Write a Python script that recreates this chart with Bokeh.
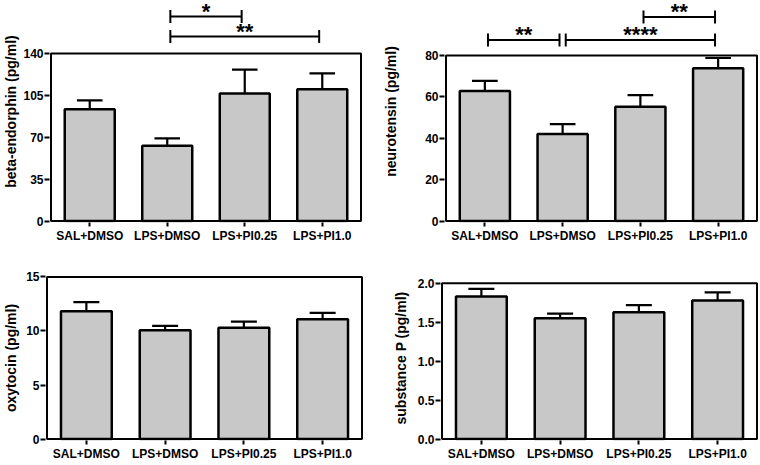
import numpy as np
from bokeh.plotting import figure
from bokeh.layouts import column, row
from bokeh.models import Range1d, FixedTicker, PrintfTickFormatter
from bokeh.core.properties import value
from bokeh.embed import file_html
from bokeh.resources import INLINE

# ---------------- data ----------------
groups = ["SAL+DMSO", "LPS+DMSO", "LPS+PI0.25", "LPS+PI1.0"]

beta_mean = [93.3, 63.0, 106.5, 110.2]
beta_sem = [7.6, 6.1, 20.0, 13.2]
neuro_mean = [62.9, 42.1, 55.2, 73.8]
neuro_sem = [4.8, 4.7, 5.6, 5.0]
oxy_mean = [11.83, 10.06, 10.30, 11.08]
oxy_sem = [0.84, 0.42, 0.57, 0.60]
subp_mean = [1.83, 1.553, 1.63, 1.78]
subp_sem = [0.10, 0.057, 0.09, 0.105]

beta_ticks = [0, 35, 70, 105, 140]
neuro_ticks = [0, 20, 40, 60, 80]
oxy_ticks = [0, 5, 10, 15]
subp_ticks = [0, 0.5, 1.0, 1.5, 2.0]

# significance brackets: (from group index, to group index, label, height in data units)
beta_sig = [(1, 2, "*", 170.9), (1, 3, "**", 154.2)]
neuro_sig = [(0, 1, "**", 87.5), (1, 3, "****", 87.5), (2, 3, "**", 98.6)]

FONT = "Liberation Sans"
BAR_FILL = "#c8c8c8"


def make_panel(means, sems, ylabel, yticks, width, height, mb, gap_top,
               label_standoff, fmt=None, sig=()):
    left, right, top, bottom = mb
    n = len(groups)
    pad = 1.5
    frame_w = width - left - right
    frame_h = height - top - bottom
    ppx = (frame_w - 2 * pad) / n
    ymax = yticks[-1]
    ppy = (frame_h - pad - gap_top) / ymax
    p = figure(width=width, height=height, output_backend="svg",
               toolbar_location=None,
               x_range=Range1d(-0.5 - pad / ppx, n - 0.5 + pad / ppx),
               y_range=Range1d(-pad / ppy, ymax + gap_top / ppy),
               min_border_left=left, min_border_right=right,
               min_border_top=top, min_border_bottom=bottom)
    p.xgrid.visible = False
    p.ygrid.visible = False
    p.outline_line_color = None
    p.background_fill_color = "white"
    p.border_fill_color = "white"

    for ax in (p.xaxis[0], p.yaxis[0]):
        ax.axis_line_color = None
        ax.major_tick_line_color = "black"
        ax.major_tick_line_width = 2
        ax.major_tick_in = 0
        ax.minor_tick_line_color = None
        ax.major_label_text_font = FONT
        ax.major_label_text_font_style = "bold"
        ax.major_label_text_font_size = "12px"
        ax.major_label_text_color = "black"

    xs = np.arange(n)
    p.xaxis.ticker = FixedTicker(ticks=list(range(n)))
    p.xaxis.major_label_overrides = {i: g for i, g in enumerate(groups)}
    p.xaxis.major_tick_out = 4
    p.xaxis.major_label_standoff = 2

    p.yaxis.ticker = FixedTicker(ticks=yticks)
    if fmt:
        p.yaxis.formatter = PrintfTickFormatter(format=fmt)
    p.yaxis.major_tick_out = 5
    p.yaxis.major_label_standoff = 1
    p.yaxis.axis_label = ylabel
    p.yaxis.axis_label_standoff = label_standoff
    p.yaxis.axis_label_text_font = FONT
    p.yaxis.axis_label_text_font_style = "bold"
    p.yaxis.axis_label_text_font_size = "14px"
    p.yaxis.axis_label_text_color = "black"

    means = np.array(means, dtype=float)
    tops = means + np.array(sems, dtype=float)

    p.vbar(x=xs, top=means, bottom=0, width=0.645, fill_color=BAR_FILL,
           line_color="black", line_width=2.5)
    p.segment(x0=xs, y0=means, x1=xs, y1=tops, line_color="black", line_width=2.2)
    p.segment(x0=xs - 0.165, y0=tops, x1=xs + 0.165, y1=tops,
              line_color="black", line_width=2.2)

    p.quad(left=[-0.5], right=[n - 0.5], bottom=[0], top=[ymax],
           fill_color=None, line_color="black", line_width=2)

    t = 6.5 / ppy
    for a, b, lab, h in sig:
        xa, xb = a + 0.04, b - 0.04
        p.segment(x0=[xa], y0=[h], x1=[xb], y1=[h], line_color="black", line_width=2)
        p.segment(x0=[xa, xb], y0=[h - t, h - t], x1=[xa, xb], y1=[h + t, h + t],
                  line_color="black", line_width=2)
        p.text(x=[(xa + xb) / 2], y=[h], text=[lab], text_font=value(FONT),
               text_font_style="bold", text_font_size="22px", text_color="black",
               text_align="center", text_baseline="alphabetic", y_offset=-5.5)
    return p


p1 = make_panel(beta_mean, beta_sem, "beta-endorphin (pg/ml)", beta_ticks,
                380, 247, (44, 18, 0, 25), 53, 1, sig=beta_sig)
p2 = make_panel(neuro_mean, neuro_sem, "neurotensin (pg/ml)", neuro_ticks,
                379, 247, (60, 1, 0, 25), 55, 23, sig=neuro_sig)
p3 = make_panel(oxy_mean, oxy_sem, "oxytocin (pg/ml)", oxy_ticks,
                380, 216, (44, 17, 28, 20), 1.5, 4)
p4 = make_panel(subp_mean, subp_sem, "substance P (pg/ml)", subp_ticks,
                379, 216, (60, 1, 28, 20), 8, 6, fmt="%.1f")

layout = column(row(p1, p2), row(p3, p4))

open("out.html", "w").write(file_html(layout, INLINE))
